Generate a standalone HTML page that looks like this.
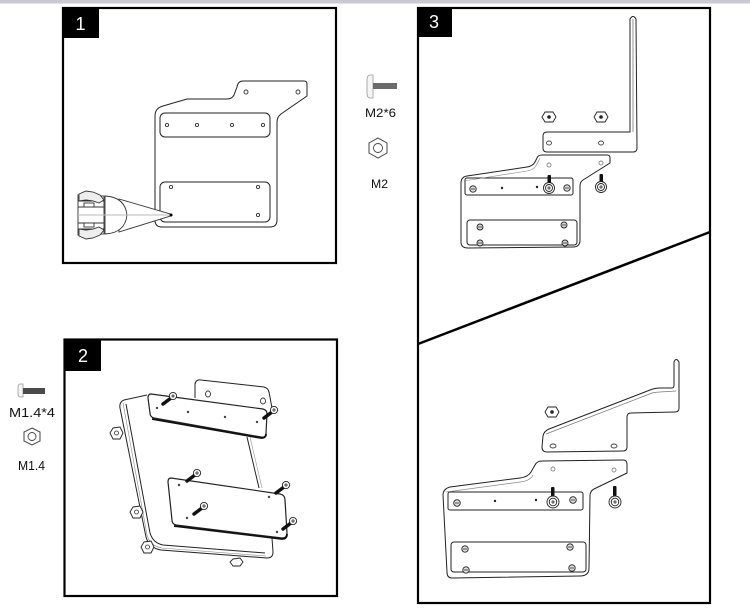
<!DOCTYPE html>
<html><head><meta charset="utf-8"><style>
html,body{margin:0;padding:0;background:#fff;}
svg{display:block;}
text{font-family:"Liberation Sans",sans-serif;}
</style></head><body>
<svg width="750" height="614" viewBox="0 0 750 614" xmlns="http://www.w3.org/2000/svg">
<rect x="0" y="0" width="750" height="614" fill="#fff"/>
<rect x="0" y="0" width="750" height="3.5" fill="#c9c9d2"/>

<!-- Panel frames -->
<rect x="63" y="8" width="273" height="255" fill="none" stroke="#000" stroke-width="2.2"/>
<rect x="64.5" y="339.5" width="272.5" height="256.5" fill="none" stroke="#000" stroke-width="2.2"/>
<rect x="418" y="8" width="292" height="595" fill="none" stroke="#000" stroke-width="2.2"/>
<line x1="418" y1="344" x2="710" y2="232" stroke="#000" stroke-width="2.5"/>

<!-- Labels -->
<rect x="62" y="7" width="37" height="31" fill="#000"/>
<text x="80.5" y="30" fill="#fff" font-size="18" text-anchor="middle">1</text>
<rect x="64" y="339" width="37" height="32" fill="#000"/>
<text x="83" y="362" fill="#fff" font-size="18" text-anchor="middle">2</text>
<rect x="418" y="7" width="34" height="30" fill="#000"/>
<text x="434" y="28" fill="#fff" font-size="18" text-anchor="middle">3</text>

<!-- Side parts: M2 -->
<path d="M370,75 Q367,75 367,80 L367,93 Q367,98 370,98 L373,98 L373,75 Z" fill="#f4f4f4" stroke="#999" stroke-width="0.8"/>
<rect x="373" y="83" width="24" height="6" fill="#6a6a6a"/>
<text x="365" y="117" font-size="12" fill="#111" textLength="31" lengthAdjust="spacingAndGlyphs">M2*6</text>
<polygon points="378,138 387,143 387,153 378,158 369,153 369,143" fill="#fff" stroke="#444" stroke-width="1"/>
<circle cx="378" cy="148" r="4.5" fill="none" stroke="#444" stroke-width="0.9"/>
<text x="371" y="188" font-size="12" fill="#111" textLength="17" lengthAdjust="spacingAndGlyphs">M2</text>

<!-- Side parts: M1.4 -->
<path d="M20,384 Q18,384 18,388 L18,393 Q18,397 20,397 L23,397 L23,384 Z" fill="#f4f4f4" stroke="#999" stroke-width="0.8"/>
<rect x="23" y="388" width="22" height="6" fill="#4a4a4a"/>
<text x="9" y="417" font-size="12.5" fill="#111" textLength="46" lengthAdjust="spacingAndGlyphs">M1.4*4</text>
<polygon points="32,428 40,432 40,441 32,445 24,441 24,432" fill="#fff" stroke="#444" stroke-width="1"/>
<circle cx="32" cy="436.5" r="4" fill="none" stroke="#444" stroke-width="0.9"/>
<text x="18" y="470" font-size="12.5" fill="#111" textLength="27" lengthAdjust="spacingAndGlyphs">M1.4</text>

<!-- ===== Panel 1 drawing ===== -->
<g fill="none" stroke="#222" stroke-width="1">
<path d="M155,116 Q155,108 163,106 L187,99 L227,99 Q232,99 234,95 L237,87 Q238,81 243,81 L304,81 Q307,81 307,84 L307,96 L281,114 Q277,117 277,122 L277,220 Q277,227 270,227 L162,227 Q155,227 155,220 Z"/>
<rect x="160" y="113" width="110" height="24" rx="5"/>
<rect x="160" y="182" width="110" height="40" rx="5"/>
</g>
<g fill="none" stroke="#333" stroke-width="0.9">
<circle cx="167" cy="125" r="1.6"/><circle cx="197" cy="125" r="1.6"/><circle cx="232" cy="125" r="1.6"/><circle cx="263" cy="125" r="1.6"/>
<circle cx="246" cy="92" r="2"/><circle cx="298" cy="92" r="2"/>
<circle cx="171" cy="187" r="1.6"/><circle cx="258" cy="187" r="1.6"/><circle cx="258" cy="215" r="1.6"/>
</g>
<!-- pen tool -->
<g stroke="#333" stroke-width="0.9" fill="#fff">
<path d="M119,199 L172,214.5 L172,215.5 L119,232 Z"/>
<path d="M105,196 Q125,197 127,215 Q125,233 105,234 Z"/>
<path d="M78,195 L104,196 L104,234 L78,235 Z"/>
<line x1="78" y1="201" x2="104" y2="201"/>
<line x1="78" y1="207" x2="104" y2="207"/>
<line x1="78" y1="223" x2="104" y2="223"/>
<line x1="78" y1="229" x2="104" y2="229"/>
<line x1="78" y1="215" x2="172" y2="215" stroke="#bbb"/>
<path d="M79,194 L86,191 L93,192 L100,195 L104,200 L99,203 L93,201 L86,200 L79,201 Z" fill="#eee"/>
<path d="M79,236 L86,239 L93,238 L100,235 L104,230 L99,227 L93,229 L86,230 L79,229 Z" fill="#eee"/>
<rect x="84" y="203" width="10" height="4" fill="#fff"/>
<rect x="84" y="223" width="10" height="4" fill="#fff"/>
</g>
<circle cx="171" cy="215" r="1.5" fill="#000"/>

<!-- ===== Panel 2 drawing ===== -->
<g fill="none" stroke="#222" stroke-width="1">
<path d="M147,395 L124,400 Q119,402 120,408 L146,537 Q149,548 161,550 L267,558 Q273,558 273,552 L272,538"/>
<path d="M126,404 L150,533 Q153,543 163,545 L265,553"/>
<path d="M123,403 L147,535 Q150,546 162,548 L266,556" stroke="#888" stroke-width="0.6"/>
<line x1="247" y1="437" x2="259" y2="488"/>
<line x1="250" y1="437" x2="262" y2="488" stroke="#999" stroke-width="0.6"/>
<!-- back tab -->
<path d="M195,398 L195,384 Q196,379 201,380 L264,387 Q268,388 269,392 L272,408"/>
</g>
<g fill="none" stroke="#333" stroke-width="0.9">
<ellipse cx="208" cy="394" rx="2.5" ry="3"/><ellipse cx="263" cy="401" rx="2.5" ry="3"/>
</g>
<!-- top plate -->
<path d="M151,394 L263,409 Q267,410 267,414 L266,433 Q266,438 261,437 L154,418 Q150,417 150,413 L148,398 Q148,394 151,394 Z" fill="#fff" stroke="#222" stroke-width="1.2"/>
<path d="M152,419 L261,438 Q266,438 266,434" fill="none" stroke="#111" stroke-width="1.8"/>
<g fill="#444">
<circle cx="157" cy="408" r="1.2"/><circle cx="188" cy="412" r="1.2"/><circle cx="225" cy="417" r="1.2"/><circle cx="257" cy="422" r="1.2"/>
</g>
<!-- bottom plate -->
<path d="M171,478 L280,494 Q285,495 285,500 L287,533 Q287,538 282,538 L176,525 Q172,524 172,520 L168,482 Q168,478 171,478 Z" fill="#fff" stroke="#222" stroke-width="1.2"/>
<path d="M174,526 L282,539 Q287,539 287,534" fill="none" stroke="#111" stroke-width="1.8"/>
<g fill="#444">
<circle cx="179" cy="485" r="1.2"/><circle cx="269" cy="497" r="1.2"/><circle cx="187" cy="518" r="1.2"/><circle cx="277" cy="532" r="1.2"/>
</g>
<!-- screws panel 2 -->
<g stroke="#111" stroke-linecap="round">
<line x1="171" y1="398" x2="163" y2="404" stroke-width="3.5"/>
<line x1="272" y1="412" x2="264" y2="418" stroke-width="3.5"/>
<line x1="195" y1="475" x2="187" y2="481" stroke-width="3.5"/>
<line x1="284" y1="487" x2="276" y2="493" stroke-width="3.5"/>
<line x1="202" y1="508" x2="194" y2="514" stroke-width="3.5"/>
<line x1="291" y1="523" x2="283" y2="529" stroke-width="3.5"/>
</g>
<g fill="#fff" stroke="#222" stroke-width="0.9">
<circle cx="173" cy="396" r="3.6"/><circle cx="274" cy="410" r="3.6"/>
<circle cx="197" cy="473" r="3.6"/><circle cx="286" cy="485" r="3.6"/>
<circle cx="204" cy="506" r="3.6"/><circle cx="293" cy="521" r="3.6"/>
</g>
<g stroke="#222" stroke-width="0.8">
<path d="M171,396 h4 M173,394 v4"/><path d="M272,410 h4 M274,408 v4"/>
<path d="M195,473 h4 M197,471 v4"/><path d="M284,485 h4 M286,483 v4"/>
<path d="M202,506 h4 M204,504 v4"/><path d="M291,521 h4 M293,519 v4"/>
</g>
<!-- nuts panel 2 -->
<g fill="#fff" stroke="#222" stroke-width="0.9">
<polygon points="113,428 120,427 123,433 120,439 113,439 110,433"/>
<polygon points="133,507 140,506 143,512 140,518 133,518 130,512"/>
<polygon points="144,542 151,541 154,547 151,553 144,553 141,547"/>
<polygon points="233,559 240,558 243,562 240,566 233,566 230,562"/>
</g>
<g fill="none" stroke="#333" stroke-width="0.8"><circle cx="116.5" cy="433" r="2"/><circle cx="136.5" cy="512" r="2"/><circle cx="147.5" cy="547" r="2"/></g>

<!-- ===== Panel 3 upper drawing ===== -->
<g fill="#fff" stroke="#222" stroke-width="1">
<path d="M543,136 Q543,132 547,132 L630,132 L630,19 Q633,14 636,19 L637,148 Q637,152 633,152 L547,152 Q543,152 543,148 Z"/>
<path d="M461,183 Q461,177 467,176 L527,167 Q533,166 535,162 L537,158 Q538,155 542,155 L607,155 Q610,155 610,158 L610,163 L583,180 Q580,182 580,186 L580,240 Q580,247 573,247 L468,248 Q461,248 461,242 Z"/>
<rect x="465" y="178" width="108" height="17" rx="2"/>
<rect x="467" y="220" width="110" height="25" rx="3"/>
</g>
<path d="M633,132 L633,19" stroke="#666" stroke-width="0.7" fill="none"/>
<path d="M464,181 L527,171 Q534,170 537,164 L540,158" stroke="#888" stroke-width="0.6" fill="none"/>
<g fill="none" stroke="#444" stroke-width="0.9">
<ellipse cx="549" cy="143" rx="2.5" ry="2"/><ellipse cx="601" cy="143" rx="2.5" ry="2"/>
<ellipse cx="549" cy="165" rx="2" ry="2" stroke="#888"/><ellipse cx="601" cy="163" rx="2" ry="2" stroke="#888"/>
</g>
<!-- nuts -->
<g fill="#fff" stroke="#222" stroke-width="0.9">
<polygon points="545,112 553,112 556,117 553,122 545,122 542,117"/>
<polygon points="597,112 605,112 608,117 605,122 597,122 594,117"/>
</g>
<g fill="#222"><circle cx="549" cy="117" r="1.8"/><circle cx="601" cy="117" r="1.8"/></g>
<!-- shafts -->
<g fill="#111"><rect x="547.5" y="175" width="3.5" height="9" rx="1"/><rect x="599.5" y="174" width="3.5" height="9" rx="1"/></g>
<!-- washers screws -->
<g fill="#fff" stroke="#222" stroke-width="0.9">
<circle cx="549" cy="188" r="5.5"/><circle cx="549" cy="188" r="3.5"/>
<circle cx="601" cy="187" r="5.5"/><circle cx="601" cy="187" r="3.5"/>
<circle cx="473" cy="189" r="3.2" fill="#ddd"/><circle cx="567" cy="188" r="3.2" fill="#ddd"/>
<circle cx="480" cy="227" r="3" fill="#ddd"/><circle cx="564" cy="225" r="3" fill="#ddd"/>
<circle cx="480" cy="243" r="3" fill="#ddd"/><circle cx="565" cy="243" r="3" fill="#ddd"/>
</g>
<g stroke="#222" stroke-width="0.8">
<path d="M547,188 h4 M549,186 v4 M599,187 h4 M601,185 v4 M471,189 h4 M565,188 h4 M478,227 h4 M562,225 h4 M478,243 h4 M563,243 h4"/>
</g>
<g fill="#222"><circle cx="502" cy="188" r="1.2"/><circle cx="537" cy="187" r="1.2"/></g>

<!-- ===== Panel 3 lower drawing ===== -->
<g fill="#fff" stroke="#222" stroke-width="1">
<path d="M547,452 Q542,452 542,447 L543,436 Q544,431 549,429 L650,390 Q655,388 660,388 L672,388 Q674,388 674,385 L674,362 Q676,357 679,362 L679,408 Q679,412 675,412 L631,413 Q627,413 627,417 L627,447 Q627,451 623,451 Z"/>
<path d="M443,495 Q443,489 450,487 L520,478 Q528,477 531,472 L535,465 Q537,461 542,461 L623,460 Q627,460 627,464 L627,473 L594,489 Q590,491 590,496 L589,568 Q589,576 580,576 L452,578 Q447,578 447,572 Z"/>
<rect x="448" y="492" width="135" height="18" rx="2"/>
<rect x="451" y="542" width="135" height="30" rx="3"/>
</g>
<path d="M546,434 L652,393 Q656,392 660,392 L676,391" stroke="#777" stroke-width="0.7" fill="none"/>
<path d="M446,492 L520,482 Q530,481 533,475" stroke="#888" stroke-width="0.7" fill="none"/>
<g fill="none" stroke="#444" stroke-width="0.9">
<ellipse cx="553" cy="446" rx="3" ry="2"/><ellipse cx="614" cy="446" rx="3" ry="2"/>
<ellipse cx="553" cy="469" rx="2" ry="2" stroke="#888"/><ellipse cx="614" cy="470" rx="2" ry="2" stroke="#888"/>
</g>
<polygon points="548,407 556,407 559,412 556,417 548,417 545,412" fill="#fff" stroke="#222" stroke-width="0.9"/>
<circle cx="552" cy="412" r="1.8" fill="#222"/>
<g fill="#111"><rect x="551" y="487" width="3.5" height="10" rx="1"/><rect x="613" y="486" width="3.5" height="10" rx="1"/></g>
<g fill="#fff" stroke="#222" stroke-width="0.9">
<circle cx="553" cy="502" r="6"/><circle cx="553" cy="502" r="3.8"/>
<circle cx="615" cy="502" r="6"/><circle cx="615" cy="502" r="3.8"/>
<circle cx="457" cy="503" r="3.3" fill="#ddd"/><circle cx="573" cy="500" r="3.3" fill="#ddd"/>
<circle cx="465" cy="549" r="3.2" fill="#ddd"/><circle cx="570" cy="547" r="3.2" fill="#ddd"/>
<circle cx="466" cy="570" r="3.2" fill="#ddd"/><circle cx="572" cy="568" r="3.2" fill="#ddd"/>
</g>
<g stroke="#222" stroke-width="0.8">
<path d="M551,502 h4 M553,500 v4 M613,502 h4 M615,500 v4 M455,503 h4 M571,500 h4 M463,549 h4 M568,547 h4 M464,570 h4 M570,568 h4"/>
</g>
<g fill="#222"><circle cx="495" cy="501" r="1.2"/><circle cx="536" cy="500" r="1.2"/></g>
</svg>
</body></html>
